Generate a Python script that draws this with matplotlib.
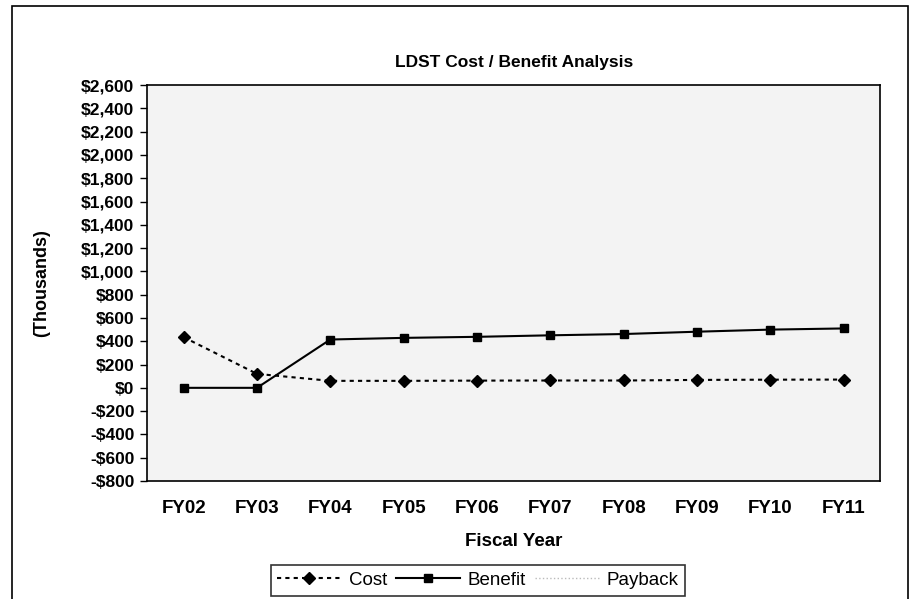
import matplotlib.pyplot as plt
from matplotlib.lines import Line2D
from matplotlib.patches import Rectangle
from matplotlib.ticker import FuncFormatter

plt.rcParams['font.family'] = ['Liberation Sans', 'DejaVu Sans']

years = ['FY02', 'FY03', 'FY04', 'FY05', 'FY06', 'FY07', 'FY08', 'FY09', 'FY10', 'FY11']
cost = [435, 120, 60, 60, 62, 63, 63, 68, 70, 71]
benefit = [0, 0, 415, 429, 438, 451, 462, 482, 500, 510]

fig = plt.figure(figsize=(9.1, 5.99), dpi=100)
ax = fig.add_axes([0.1615, 0.197, 0.806, 0.661])
ax.set_facecolor('#f3f3f3')

x = range(len(years))
ax.plot(x, cost, color='black', linestyle=(0, (2, 2)), linewidth=1.5,
        marker='D', markersize=6, label='Cost')
ax.plot(x, benefit, color='black', linestyle='-', linewidth=1.5,
        marker='s', markersize=6, label='Benefit')

ax.set_xlim(-0.5, len(years) - 0.5)
ax.set_ylim(-800, 2600)
ax.set_yticks(range(-800, 2601, 200))
ax.yaxis.set_major_formatter(FuncFormatter(
    lambda v, p: ('-$' if v < 0 else '$') + f'{abs(int(v)):,}'))
ax.set_xticks(list(x))
ax.set_xticklabels(years)
ax.tick_params(axis='x', length=0, pad=14)
ax.tick_params(axis='y', direction='out', length=5, width=1, pad=4)
for lab in ax.get_yticklabels():
    lab.set_fontsize(12.5)
    lab.set_fontweight('bold')
for lab in ax.get_xticklabels():
    lab.set_fontsize(13.5)
    lab.set_fontweight('bold')
for s in ax.spines.values():
    s.set_linewidth(1.2)

ax.set_title('LDST Cost / Benefit Analysis', fontsize=12.5, fontweight='bold', pad=13)
ax.set_xlabel('Fiscal Year', fontsize=13.5, fontweight='bold', labelpad=11)
ax.set_ylabel('(Thousands)', fontsize=13, fontweight='bold', labelpad=22)

handles = [
    Line2D([], [], color='black', linestyle=(0, (2, 2)), linewidth=1.5, marker='D', markersize=6),
    Line2D([], [], color='black', linestyle='-', linewidth=1.5, marker='s', markersize=6),
    Line2D([], [], color='#bbbbbb', linestyle=':', linewidth=1),
]
leg = fig.legend(handles, ['Cost', 'Benefit', 'Payback'], loc='center',
                 bbox_to_anchor=(0.525, 0.031), ncol=3, frameon=True, fancybox=False,
                 edgecolor='black', fontsize=13.5, handlelength=3.4, handletextpad=0.4,
                 columnspacing=0.5, borderpad=0.35)
leg.get_frame().set_linewidth(1.2)

fig.patches.append(Rectangle((0.013, -0.01), 0.985, 1.0, transform=fig.transFigure,
                             fill=False, edgecolor='black', linewidth=1.2))

fig.savefig('out.png', dpi=100)
